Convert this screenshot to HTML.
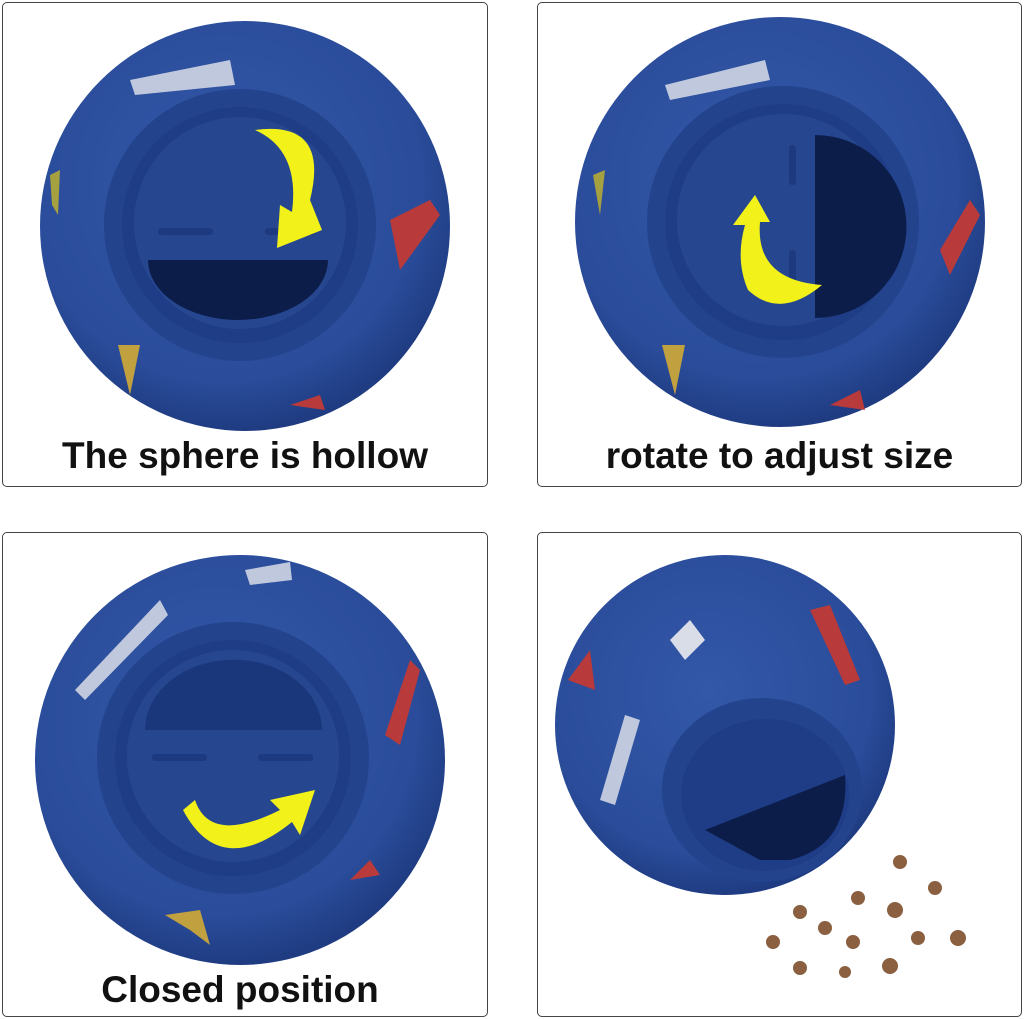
<!DOCTYPE html>
<html><head><style>
html,body{margin:0;padding:0;background:#fff;width:1024px;height:1019px;overflow:hidden}
.box{position:absolute;border:1.5px solid #444;border-radius:5px;box-sizing:border-box;background:#fff}
.t{position:absolute;font-family:"Liberation Sans",sans-serif;font-weight:bold;font-size:37px;color:#111;text-align:center;width:100%}
svg{position:absolute;left:0;top:0}
</style></head><body>
<div class="box" style="left:2px;top:2px;width:486px;height:485px"></div>
<div class="box" style="left:537px;top:2px;width:485px;height:485px"></div>
<div class="box" style="left:2px;top:532px;width:486px;height:485px"></div>
<div class="box" style="left:537px;top:532px;width:485px;height:485px"></div>
<svg width="1024" height="1019" viewBox="0 0 1024 1019">
<defs>
<radialGradient id="g" cx="45%" cy="40%" r="60%"><stop offset="0" stop-color="#3358a8"/><stop offset="0.8" stop-color="#2a4c9a"/><stop offset="1" stop-color="#1f3c82"/></radialGradient>
</defs>
<!-- TL -->
<circle cx="245" cy="226" r="205" fill="url(#g)"/>
<circle cx="240" cy="225" r="136" fill="#23438d"/>
<circle cx="240" cy="225" r="118" fill="#1f3d86"/>
<circle cx="240" cy="223" r="106" fill="#26478f"/>
<path d="M148 260 H328 A90 60 0 0 1 148 260Z" fill="#0c1d4a"/>
<rect x="158" y="228" width="55" height="7" rx="3" fill="#1d3a80"/><rect x="265" y="228" width="50" height="7" rx="3" fill="#1d3a80"/>
<path d="M255 130 Q330 120 310 200 L322 230 L277 248 L280 205 L292 212 Q300 150 255 130Z" fill="#f2f21a"/>
<path d="M130 80 L230 60 L235 85 L135 95Z" fill="#d9dde8" opacity=".85"/>
<path d="M390 220 L430 200 L440 215 L400 270Z" fill="#b83a3a"/>
<path d="M50 175 L60 170 L58 215 L52 205Z" fill="#a5a040"/>
<path d="M118 345 L140 345 L130 395 Z" fill="#c1a040"/>
<path d="M290 405 L320 395 L325 410Z" fill="#b83a3a"/>
<!-- TR -->
<circle cx="780" cy="222" r="205" fill="url(#g)"/>
<circle cx="783" cy="222" r="136" fill="#23438d"/>
<circle cx="783" cy="222" r="118" fill="#1f3d86"/>
<circle cx="783" cy="220" r="106" fill="#26478f"/>
<path d="M815 135 A90 90 0 0 1 815 318Z" fill="#0c1d4a"/>
<rect x="789" y="145" width="7" height="40" rx="3" fill="#1d3a80"/><rect x="789" y="250" width="7" height="40" rx="3" fill="#1d3a80"/>
<path d="M733 225 L755 195 L770 222 L760 222 Q755 280 822 285 Q780 320 748 290 Q735 260 745 225Z" fill="#f2f21a"/>
<path d="M665 85 L765 60 L770 80 L670 100Z" fill="#d9dde8" opacity=".85"/>
<path d="M940 250 L970 200 L980 215 L950 275Z" fill="#b83a3a"/>
<path d="M593 175 L605 170 L600 215Z" fill="#a5a040"/>
<path d="M662 345 L685 345 L675 395 Z" fill="#c1a040"/>
<path d="M830 405 L860 390 L865 410Z" fill="#b83a3a"/>
<!-- BL -->
<circle cx="240" cy="760" r="205" fill="url(#g)"/>
<circle cx="233" cy="758" r="136" fill="#23438d"/>
<circle cx="233" cy="758" r="118" fill="#1f3d86"/>
<circle cx="233" cy="756" r="106" fill="#26478f"/>
<path d="M145 730 H322 A88 70 0 0 0 145 730Z" fill="#1a377c"/>
<rect x="152" y="754" width="55" height="7" rx="3" fill="#1d3a80"/><rect x="258" y="754" width="55" height="7" rx="3" fill="#1d3a80"/>
<path d="M183 810 L195 800 Q210 845 280 810 L270 800 L315 790 L300 835 L292 822 Q220 880 183 810Z" fill="#f2f21a"/>
<path d="M75 690 L160 600 L168 615 L85 700Z" fill="#d9dde8" opacity=".85"/>
<path d="M385 735 L410 660 L420 670 L400 745Z" fill="#b83a3a"/>
<path d="M245 570 L290 562 L292 580 L250 585Z" fill="#d9dde8" opacity=".85"/>
<path d="M165 915 L200 910 L210 945 L190 930Z" fill="#c1a040"/>
<path d="M350 880 L370 860 L380 875Z" fill="#b83a3a"/>
<!-- BR -->
<circle cx="725" cy="725" r="170" fill="url(#g)"/>
<ellipse cx="762" cy="790" rx="100" ry="92" fill="#23438d"/>
<ellipse cx="765" cy="795" rx="84" ry="76" fill="#1f3d86"/>
<path d="M705 830 L845 775 Q850 845 790 860 L760 860Z" fill="#0c1d4a"/>
<path d="M670 640 L690 620 L705 640 L685 660Z" fill="#d9dde8"/>
<path d="M810 610 L830 605 L860 680 L845 685Z" fill="#b83a3a"/>
<path d="M600 800 L625 715 L640 720 L615 805Z" fill="#d9dde8" opacity=".85"/>
<path d="M568 680 L590 650 L595 690Z" fill="#b83a3a"/>
<g fill="#8a6040">
<circle cx="900" cy="862" r="7"/><circle cx="935" cy="888" r="7"/><circle cx="858" cy="898" r="7"/><circle cx="895" cy="910" r="8"/><circle cx="800" cy="912" r="7"/><circle cx="825" cy="928" r="7"/><circle cx="853" cy="942" r="7"/><circle cx="918" cy="938" r="7"/><circle cx="958" cy="938" r="8"/><circle cx="773" cy="942" r="7"/><circle cx="800" cy="968" r="7"/><circle cx="845" cy="972" r="6"/><circle cx="890" cy="966" r="8"/>
</g>
</svg>
<div class="t" style="left:0;top:435px;width:490px">The sphere is hollow</div>
<div class="t" style="left:537px;top:435px;width:485px">rotate to adjust size</div>
<div class="t" style="left:0;top:969px;width:480px">Closed position</div>
</body></html>
